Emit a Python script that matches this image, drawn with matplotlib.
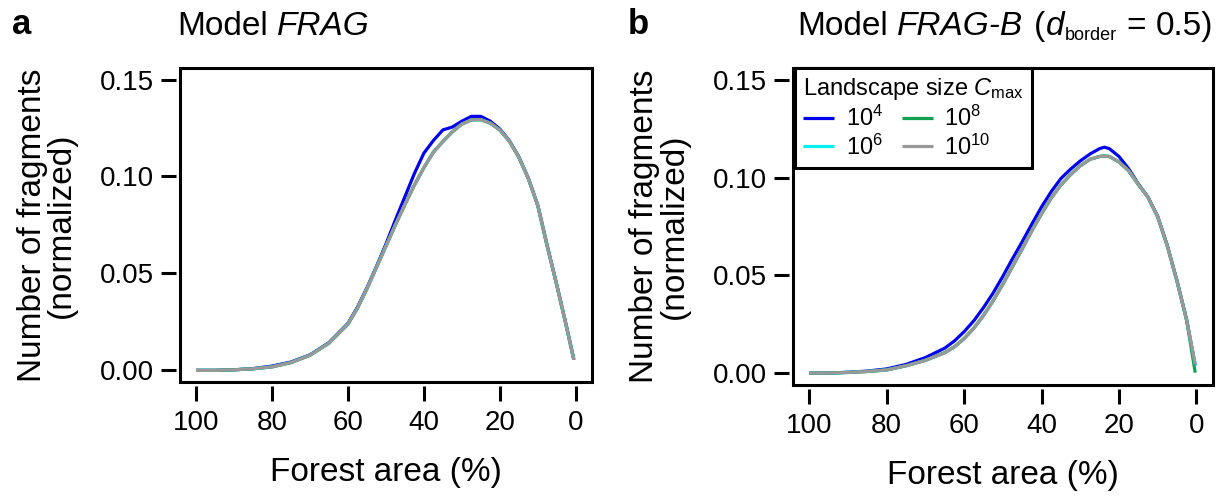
import matplotlib
matplotlib.use("Agg")
import matplotlib.pyplot as plt
from matplotlib.patches import Rectangle

plt.rcParams['font.family'] = ['Liberation Sans', 'DejaVu Sans']
plt.rcParams['mathtext.fontset'] = 'custom'
plt.rcParams['mathtext.rm'] = 'Liberation Sans'
plt.rcParams['mathtext.it'] = 'Liberation Sans:italic'

# forest area (%) sample positions
area_a = [100, 95, 90, 85, 80, 75, 70, 65, 60, 57.5, 55, 52.5, 50, 47.5, 45, 42.5, 40,
          37.5, 35, 32.5, 30, 27.5, 25, 22.5, 20, 17.5, 15, 12.5, 10, 7.5, 5, 2.5, 0.5]
area_b = [100, 95, 90, 85, 80, 75, 70, 65, 62.5, 60, 57.5, 55, 52.5, 50, 47.5, 45, 42.5, 40,
          37.5, 35, 32.5, 30, 27.5, 25, 23.75, 22.5, 20, 17.5, 15, 12.5, 10, 7.5, 5, 2.5, 0.3]

# model FRAG
frag_1e4 = [0.0, 0.0, 0.0003, 0.0009, 0.0022, 0.0043, 0.0080, 0.0143, 0.0242, 0.0325, 0.0425,
            0.0535, 0.0650, 0.0775, 0.0895, 0.1015, 0.1120, 0.1185, 0.1240, 0.1255, 0.1285,
            0.1310, 0.1310, 0.1285, 0.1245, 0.1185, 0.1102, 0.0992, 0.0852, 0.0642, 0.0442,
            0.0232, 0.0056]
frag_1e6 = [0.0, 0.0, 0.0003, 0.0008, 0.0018, 0.0040, 0.0078, 0.0140, 0.0238, 0.0320, 0.0420,
            0.0530, 0.0640, 0.0750, 0.0855, 0.0955, 0.1045, 0.1125, 0.1180, 0.1230, 0.1270,
            0.1292, 0.1293, 0.1275, 0.1240, 0.1182, 0.1100, 0.0990, 0.0850, 0.0640, 0.0440,
            0.0230, 0.0055]
frag_1e8 = [0.0, 0.0, 0.0003, 0.0008, 0.0018, 0.0040, 0.0078, 0.0140, 0.0238, 0.0320, 0.0420,
            0.0530, 0.0640, 0.0750, 0.0855, 0.0955, 0.1045, 0.1125, 0.1180, 0.1230, 0.1270,
            0.1292, 0.1293, 0.1275, 0.1240, 0.1182, 0.1100, 0.0990, 0.0850, 0.0640, 0.0440,
            0.0230, 0.0055]
frag_1e10 = [0.0, 0.0, 0.0003, 0.0008, 0.0018, 0.0040, 0.0078, 0.0140, 0.0238, 0.0320, 0.0420,
             0.0530, 0.0640, 0.0750, 0.0855, 0.0955, 0.1045, 0.1125, 0.1180, 0.1230, 0.1270,
             0.1292, 0.1293, 0.1275, 0.1240, 0.1182, 0.1100, 0.0990, 0.0850, 0.0640, 0.0440,
             0.0230, 0.0055]

# model FRAG-B (d_border = 0.5)
fragb_1e4 = [0.0, 0.0001, 0.0005, 0.0011, 0.0022, 0.0045, 0.0080, 0.0128, 0.0165, 0.0212,
             0.0268, 0.0335, 0.0410, 0.0495, 0.0585, 0.0672, 0.0762, 0.0850, 0.0928, 0.0995,
             0.1043, 0.1085, 0.1120, 0.1148, 0.1155, 0.1148, 0.1108, 0.1045, 0.0968, 0.0900,
             0.0802, 0.0652, 0.0472, 0.0272, 0.0040]
fragb_1e6 = [0.0, 0.0001, 0.0004, 0.0009, 0.0017, 0.0038, 0.0066, 0.0105, 0.0135, 0.0177,
             0.0230, 0.0295, 0.0370, 0.0455, 0.0545, 0.0635, 0.0728, 0.0815, 0.0895, 0.0962,
             0.1015, 0.1060, 0.1093, 0.1108, 0.1110, 0.1108, 0.1080, 0.1035, 0.0965, 0.0900,
             0.0800, 0.0650, 0.0470, 0.0270, 0.0040]
fragb_1e8 = [0.0, 0.0001, 0.0004, 0.0009, 0.0017, 0.0038, 0.0066, 0.0105, 0.0135, 0.0177,
             0.0230, 0.0295, 0.0370, 0.0455, 0.0545, 0.0635, 0.0728, 0.0815, 0.0895, 0.0962,
             0.1015, 0.1060, 0.1093, 0.1108, 0.1110, 0.1108, 0.1080, 0.1035, 0.0965, 0.0900,
             0.0800, 0.0650, 0.0470, 0.0270, 0.0003]
fragb_1e10 = [0.0, 0.0001, 0.0004, 0.0009, 0.0017, 0.0038, 0.0066, 0.0105, 0.0135, 0.0177,
              0.0230, 0.0295, 0.0370, 0.0455, 0.0545, 0.0635, 0.0728, 0.0815, 0.0895, 0.0962,
              0.1015, 0.1060, 0.1093, 0.1108, 0.1110, 0.1108, 0.1080, 0.1035, 0.0965, 0.0900,
              0.0800, 0.0650, 0.0470, 0.0270, 0.0045]

sizes = [r'$10^{4}$', r'$10^{6}$', r'$10^{8}$', r'$10^{10}$']
colors = ['#0000ee', '#00f0f0', '#10a050', '#999999']

xticks = [100, 80, 60, 40, 20, 0]
yticks = [0.00, 0.05, 0.10, 0.15]

W, H = 1219, 497
fig = plt.figure(figsize=(W / 100, H / 100), dpi=100)
ax_a = fig.add_axes([0.1477, 0.2314, 0.338, 0.632])
ax_b = fig.add_axes([0.6505, 0.2254, 0.3446, 0.6378])

panels = [
    (ax_a, area_a, [frag_1e4, frag_1e6, frag_1e8, frag_1e10]),
    (ax_b, area_b, [fragb_1e4, fragb_1e6, fragb_1e8, fragb_1e10]),
]

for ax, area, series in panels:
    for ys, c, lab in zip(series, colors, sizes):
        ax.plot(area, ys, color=c, lw=2.3, label=lab, solid_capstyle='butt')
    ax.set_xlim(104.2, -4.3)
    ax.set_ylim(-0.006, 0.156)
    ax.set_xticks(xticks)
    ax.set_xticklabels([str(t) for t in xticks])
    ax.set_yticks(yticks)
    ax.set_yticklabels(['%.2f' % t for t in yticks])
    # R-style: ticks sit a little off the box
    for side in ['left', 'bottom']:
        ax.spines[side].set_position(('outward', 3))
    for sp in ax.spines.values():
        sp.set_visible(False)
    ax.add_patch(Rectangle((0, 0), 1, 1, transform=ax.transAxes, fill=False,
                           lw=2.2, ec='black', clip_on=False, zorder=5))
    ax.tick_params(direction='out', length=11, width=2.2, labelsize=20)
    ax.tick_params(axis='x', pad=6)
    ax.tick_params(axis='y', pad=5)
    ax.set_xlabel('Forest area (%)', fontsize=24, labelpad=15)
    ax.set_ylabel('Number of fragments\n(normalized)', fontsize=24, labelpad=16,
                  linespacing=0.95)

renderer = fig.canvas.get_renderer()


def text_width(s, **kw):
    t = fig.text(0, 0, s, **kw)
    w = t.get_window_extent(renderer).width
    t.remove()
    return w


def rich_text(x_px, base_px, pieces):
    # pieces: (text, fontsize, style, drop below baseline px, gap before px)
    x = x_px
    for s, fs, style, dy, gap in pieces:
        x += gap
        fig.text(x / W, (H - base_px - dy) / H, s, fontsize=fs, style=style,
                 ha='left', va='baseline')
        x += text_width(s, fontsize=fs, style=style)


sp24 = text_width('M M', fontsize=24) - text_width('MM', fontsize=24)

rich_text(177, 35, [('Model', 24, 'normal', 0, 0),
                    ('FRAG', 24, 'italic', 0, sp24)])
rich_text(797, 35, [('Model', 24, 'normal', 0, 0),
                    ('FRAG-B', 24, 'italic', 0, sp24),
                    ('(', 24, 'normal', 0, sp24 + 1),
                    ('d', 24, 'italic', 0, 1),
                    ('border', 13, 'normal', 5, 1),
                    ('=', 24, 'normal', 0, sp24),
                    ('0.5)', 24, 'normal', 0, sp24)])

fig.text(0.010, 0.95, 'a', fontsize=25, fontweight='bold', va='center')
fig.text(0.515, 0.95, 'b', fontsize=25, fontweight='bold', va='center')

leg = ax_b.legend(ncol=2, loc='upper left', bbox_to_anchor=(0.005, 1.0),
                  borderaxespad=0, fontsize=17, title=r'Landscape size $C_{\mathrm{max}}$',
                  title_fontsize=17, alignment='left', fancybox=False, framealpha=1,
                  handlelength=1.3, handletextpad=0.5, columnspacing=0.8,
                  labelspacing=0.15, borderpad=0.35)
leg.get_frame().set_edgecolor('black')
leg.get_frame().set_linewidth(2.2)
leg.set_zorder(10)

fig.savefig('out.png', dpi=100)
